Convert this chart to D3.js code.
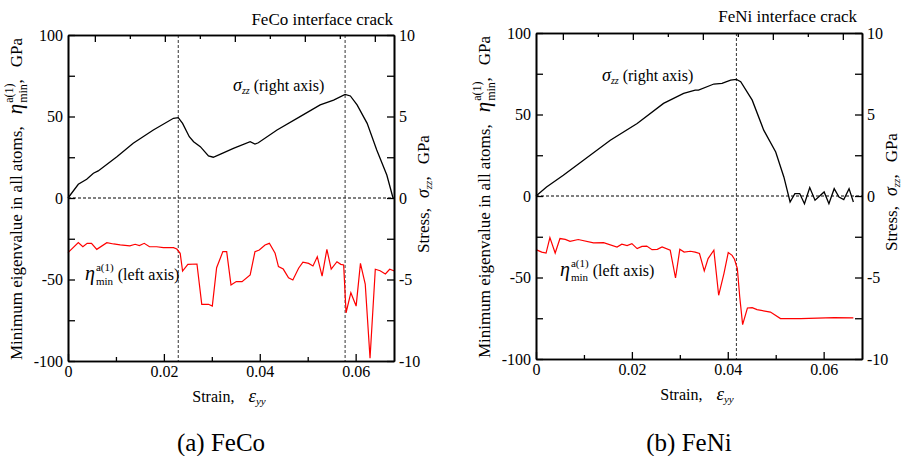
<!DOCTYPE html>
<html>
<head>
<meta charset="utf-8">
<script src="https://cdn.jsdelivr.net/npm/d3@7/dist/d3.min.js"></script>
<style>
  body { margin: 0; background: #fff; }
  svg, svg text { font-family: "Liberation Serif", "Times New Roman", serif; }
  text { fill: #000; }
</style>
</head>
<body>
<script>
'use strict';

// ---- data ----
var strainDomain = [0, 0.068];

// (a) FeCo : stress (right axis, GPa)
var fecoStressStrain = [0, 0.00215, 0.0039, 0.0053, 0.0063, 0.0102, 0.0136, 0.0178, 0.0220, 0.0230,
  0.0239, 0.0253, 0.0262, 0.0276, 0.0293, 0.0303, 0.0317, 0.0345, 0.0380, 0.0390, 0.0397,
  0.0436, 0.0484, 0.0526, 0.0554, 0.0578, 0.0589, 0.0603, 0.0624, 0.0644, 0.0665, 0.0678];
var fecoStress = [0, 0.84, 1.15, 1.52, 1.66, 2.53, 3.36, 4.17, 4.89, 4.93,
  4.58, 3.76, 3.45, 3.15, 2.58, 2.50, 2.68, 3.05, 3.45, 3.31, 3.39,
  4.17, 4.99, 5.71, 6.01, 6.36, 6.26, 5.71, 4.58, 2.94, 1.41, 0];

// (a) FeCo : minimum eigenvalue (left axis, GPa)
var fecoEtaStrain = [0, 0.00215, 0.0031, 0.0040, 0.0049, 0.0060, 0.0081, 0.0095, 0.0109, 0.0129,
  0.0140, 0.0149, 0.0159, 0.0170, 0.0185, 0.0199, 0.0220, 0.0227, 0.0234, 0.0239, 0.0250,
  0.0269, 0.0279, 0.0293, 0.0301, 0.0310, 0.0323, 0.0331, 0.0340, 0.0351, 0.0363, 0.0380,
  0.0390, 0.0399, 0.0411, 0.0420, 0.0432, 0.0439, 0.0449, 0.0460, 0.0469, 0.0481, 0.0490,
  0.0502, 0.0511, 0.0520, 0.0530, 0.0540, 0.0549, 0.0561, 0.0569, 0.0575, 0.0580, 0.0590,
  0.0601, 0.0610, 0.0620, 0.0630, 0.0641, 0.0651, 0.0662, 0.0671, 0.0681];
var fecoEta = [-33.5, -27.4, -29.9, -27.8, -27.8, -31.5, -27.4, -28.2, -28.8, -29.4,
  -28.4, -29.2, -27.8, -29.9, -29.9, -30.5, -30.5, -31.3, -33.9, -44.8, -40.7,
  -40.5, -65.2, -65.2, -66.3, -42.8, -32.9, -32.9, -53.4, -51.3, -51.3, -47.2,
  -32.9, -31.9, -28.8, -27.8, -33.9, -42.1, -43.6, -48.9, -50.3, -43.1, -39.4,
  -40.1, -41.7, -36.0, -47.9, -31.5, -43.6, -39.1, -40.7, -41.1, -70.4, -58.1,
  -66.3, -40.1, -52.8, -98.3, -43.7, -44.6, -46.6, -43.7, -44.8];

// (b) FeNi : stress (right axis, GPa)
var feniStressStrain = [0, 0.0022, 0.0057, 0.0099, 0.0155, 0.0211, 0.0266, 0.0308, 0.0332, 0.0339,
  0.0371, 0.0388, 0.0406, 0.0418, 0.0427, 0.0451, 0.0475, 0.0500, 0.0517, 0.0530, 0.0540,
  0.0550, 0.0560, 0.0571, 0.0582, 0.0601, 0.0611, 0.0622, 0.0632, 0.0642, 0.0653, 0.0662];
var feniStress = [0, 0.55, 1.27, 2.19, 3.42, 4.45, 5.68, 6.29, 6.50, 6.50,
  6.87, 6.91, 7.11, 7.15, 7.01, 5.88, 4.04, 2.70, 1.17, -0.37, 0.15,
  0.15, -0.47, 0.52, -0.26, 0.25, -0.47, 0.45, -0.06, -0.22, 0.45, -0.37];

// (b) FeNi : minimum eigenvalue (left axis, GPa)
var feniEtaStrain = [0, 0.0012, 0.0021, 0.0029, 0.0040, 0.0050, 0.0061, 0.0071, 0.0088, 0.0120,
  0.0141, 0.0169, 0.0179, 0.0190, 0.0200, 0.0211, 0.0221, 0.0231, 0.0242, 0.0253, 0.0263,
  0.0280, 0.0291, 0.0300, 0.0309, 0.0322, 0.0332, 0.0341, 0.0351, 0.0359, 0.0371, 0.0381,
  0.0392, 0.0401, 0.0409, 0.0414, 0.0420, 0.0425, 0.0431, 0.0441, 0.0451, 0.0461, 0.0489,
  0.0510, 0.0552, 0.0622, 0.0662];
var feniEta = [-32.9, -34.4, -35.0, -25.5, -35.0, -26.1, -26.6, -27.8, -26.7, -28.8,
  -28.6, -31.3, -29.6, -30.4, -29.2, -32.3, -30.9, -30.7, -32.9, -32.7, -31.3,
  -33.3, -50.3, -32.7, -34.4, -33.9, -34.4, -35.3, -46.0, -38.4, -33.3, -60.9,
  -47.6, -34.7, -36.4, -38.8, -44.5, -62.0, -78.9, -68.7, -68.5, -69.7, -71.2,
  -75.2, -75.2, -74.6, -74.8];

var fecoCracks = [0.0230, 0.0578];
var feniCracks = [0.0418];

// axis ticks
var strainMajor = [0, 0.02, 0.04, 0.06];
var strainMinor = [0.01, 0.03, 0.05];
var topMajor = [0.0056, 0.0202, 0.0348, 0.0494, 0.0640];
var topMinor = [0.0129, 0.0275, 0.0421, 0.0567];
var etaMajor = [-100, -50, 0, 50, 100];
var etaMinor = [-75, -25, 25, 75];
var stressMajor = [-10, -5, 0, 5, 10];
var stressMinor = [-7.5, -2.5, 2.5, 7.5];

var titles = ['FeCo interface crack', 'FeNi interface crack'];
var captions = ['(a) FeCo', '(b) FeNi'];

// ---- drawing ----
var FONT = '"Liberation Serif", "Times New Roman", serif',
    W = 901, H = 456,
    plotW = 326, plotH = 326;

var svg = d3.select('body').append('svg')
    .attr('width', W)
    .attr('height', H)
    .attr('font-family', FONT);

/**
 * Lays out a run of text pieces (sub/superscripts) in one group.
 * piece: {t, size, italic, dy, gap, stack}
 */
function richText(parent, x, y, pieces, anchor, rotate) {
  var g = parent.append('g')
      .attr('transform', 'translate(' + x + ',' + y + ') rotate(' + (rotate || 0) + ')'),
      cx = 0,
      prevX = 0,
      prevW = 0;

  pieces.forEach(function (p) {
    var t = g.append('text')
        .attr('font-family', FONT)
        .attr('font-size', p.size)
        .attr('font-style', p.italic ? 'italic' : null)
        .attr('y', p.dy || 0)
        .text(p.t),
        w = t.node().getComputedTextLength();

    if (p.stack) {
      t.attr('x', prevX);
      prevW = Math.max(prevW, w);
      cx = prevX + prevW;
    } else {
      cx += p.gap || 0;
      t.attr('x', cx);
      prevX = cx;
      prevW = w;
      cx += w;
    }
  });

  var shift = anchor === 'middle' ? -cx / 2 : (anchor === 'end' ? -cx : 0);
  g.selectAll('text').attr('x', function () {
    return +this.getAttribute('x') + shift;
  });
  return g;
}

var etaPieces = function (size) {
  return [
    {t: 'η', size: size + 4, italic: true},
    {t: 'a(1)', size: size - 5, dy: -9, gap: 1},
    {t: 'min', size: size - 5, dy: 5, stack: true}
  ];
};
var sigmaPieces = function (size) {
  return [
    {t: 'σ', size: size + 2, italic: true},
    {t: 'zz', size: size - 6, italic: true, dy: 3}
  ];
};

function drawPanel(p) {
  var g = svg.append('g'),
      left = p.left,
      top = p.top,
      x, yL, yR, line;

  x = d3.scaleLinear().domain(strainDomain).range([left, left + plotW]);
  yL = d3.scaleLinear().domain([-100, 100]).range([top + plotH, top]);
  yR = d3.scaleLinear().domain([-10, 10]).range([top + plotH, top]);

  // zero line
  g.append('line')
      .attr('x1', x(strainDomain[0])).attr('x2', x(strainDomain[1]))
      .attr('y1', yL(0)).attr('y2', yL(0))
      .attr('stroke', '#000').attr('stroke-width', 1)
      .attr('stroke-dasharray', '3,2');

  // crack initiation lines
  p.cracks.forEach(function (c) {
    g.append('line')
        .attr('x1', x(c)).attr('x2', x(c))
        .attr('y1', yL(100)).attr('y2', yL(-100))
        .attr('stroke', '#333').attr('stroke-width', 1)
        .attr('stroke-dasharray', '3,2');
  });

  line = d3.line();

  g.append('path')
      .attr('d', line(p.etaStrain.map(function (s, i) {
        return [x(s), yL(p.eta[i])];
      })))
      .attr('fill', 'none').attr('stroke', '#ff0000').attr('stroke-width', 1.2);

  g.append('path')
      .attr('d', line(p.stressStrain.map(function (s, i) {
        return [x(s), yR(p.stress[i])];
      })))
      .attr('fill', 'none').attr('stroke', '#000').attr('stroke-width', 1.3);

  // axes
  var fmt = function (d) { return String(d); },
      axes = [
        [d3.axisBottom(x).tickValues(strainMajor).tickSize(-7).tickPadding(5).tickFormat(fmt), top + plotH, 0],
        [d3.axisBottom(x).tickValues(strainMinor).tickSize(-4).tickFormat(''), top + plotH, 0],
        [d3.axisTop(x).tickValues(topMajor).tickSize(-7).tickFormat(''), top, 0],
        [d3.axisTop(x).tickValues(topMinor).tickSize(-4).tickFormat(''), top, 0],
        [d3.axisLeft(yL).tickValues(etaMajor).tickSize(-7).tickPadding(5).tickFormat(fmt), 0, left],
        [d3.axisLeft(yL).tickValues(etaMinor).tickSize(-7).tickFormat(''), 0, left],
        [d3.axisRight(yR).tickValues(stressMajor).tickSize(-7).tickPadding(5).tickFormat(fmt), 0, left + plotW],
        [d3.axisRight(yR).tickValues(stressMinor).tickSize(-7).tickFormat(''), 0, left + plotW]
      ];

  axes.forEach(function (a) {
    var ag = g.append('g')
        .attr('transform', 'translate(' + a[2] + ',' + a[1] + ')')
        .call(a[0].tickSizeOuter(0))
        .attr('font-family', FONT)
        .attr('font-size', 16);
    ag.select('.domain').attr('stroke', '#000').attr('stroke-width', 1.6);
    ag.selectAll('.tick line').attr('stroke', '#000').attr('stroke-width', 1.3);
    ag.selectAll('.tick text').attr('fill', '#000');
  });

  // title
  g.append('text')
      .attr('x', p.titleX).attr('y', p.titleY)
      .attr('text-anchor', 'end')
      .attr('font-size', 17)
      .text(p.title);

  // in-plot labels
  richText(g, p.sigmaX, p.sigmaY,
      sigmaPieces(16).concat([{t: '(right axis)', size: 16, gap: 4}]), 'start');
  richText(g, p.etaX, p.etaY,
      etaPieces(16).concat([{t: '(left axis)', size: 16, gap: 4}]), 'start');

  // axis titles
  richText(g, left + plotW / 2 - 2, top + plotH + 41, [
    {t: 'Strain,', size: 16},
    {t: 'ε', size: 19, italic: true, gap: 14},
    {t: 'yy', size: 11, italic: true, dy: 3}
  ], 'middle');

  richText(g, left - 46, top + plotH / 2 + 1, [
    {t: 'Minimum eigenvalue in all atoms,', size: 17}
  ].concat(etaPieces(17).map(function (d, i) {
    return i === 0 ? Object.assign({gap: 12}, d) : d;
  })).concat([
    {t: ',', size: 17},
    {t: 'GPa', size: 17, gap: 12}
  ]), 'middle', -90);

  richText(g, left + plotW + 35, top + plotH / 2 - 4, [
    {t: 'Stress,', size: 17},
    {t: 'σ', size: 18, italic: true, gap: 10},
    {t: 'zz', size: 11, italic: true, dy: 3},
    {t: ',', size: 17},
    {t: 'GPa', size: 17, gap: 12}
  ], 'middle', -90);

  // caption
  g.append('text')
      .attr('x', left + plotW / 2 - 10).attr('y', 451)
      .attr('text-anchor', 'middle')
      .attr('font-size', 25)
      .text(p.caption);
}

drawPanel({
  left: 68, top: 35,
  stressStrain: fecoStressStrain, stress: fecoStress,
  etaStrain: fecoEtaStrain, eta: fecoEta,
  cracks: fecoCracks,
  title: titles[0], titleX: 393, titleY: 25,
  sigmaX: 233, sigmaY: 91,
  etaX: 85, etaY: 280,
  caption: captions[0]
});

drawPanel({
  left: 536, top: 33,
  stressStrain: feniStressStrain, stress: feniStress,
  etaStrain: feniEtaStrain, eta: feniEta,
  cracks: feniCracks,
  title: titles[1], titleX: 857, titleY: 22,
  sigmaX: 602, sigmaY: 81,
  etaX: 560, etaY: 276,
  caption: captions[1]
});
</script>
</body>
</html>
